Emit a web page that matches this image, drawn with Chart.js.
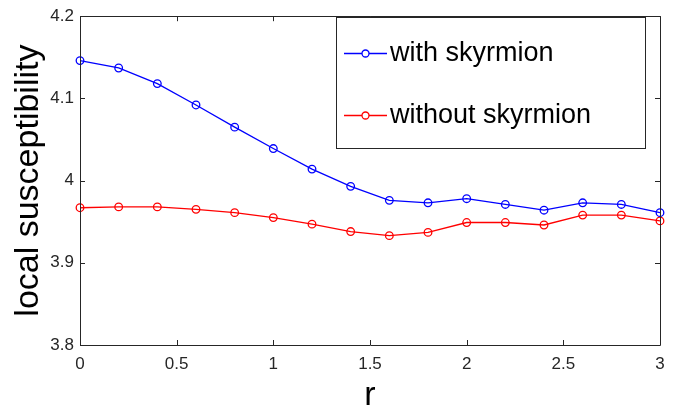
<!DOCTYPE html>
<html>
<head>
<meta charset="utf-8">
<script src="https://cdn.jsdelivr.net/npm/chart.js@4.4.1/dist/chart.umd.min.js"></script>
<style>
  html, body { margin: 0; padding: 0; background: #fff; }
  #wrap { width: 696px; height: 411px; }
</style>
</head>
<body>
<div id="wrap"><canvas id="chi-chart"></canvas></div>
<script>
// values
const rValues = [0, 0.2, 0.4, 0.6, 0.8, 1.0, 1.2, 1.4, 1.6, 1.8, 2.0, 2.2, 2.4, 2.6, 2.8, 3.0]
const withSkyrmion = [4.146, 4.137, 4.118, 4.092, 4.065, 4.039, 4.014, 3.993, 3.976, 3.973, 3.978, 3.971, 3.964, 3.973, 3.971, 3.961]
const withoutSkyrmion = [3.967, 3.968, 3.968, 3.965, 3.961, 3.955, 3.947, 3.938, 3.933, 3.937, 3.949, 3.949, 3.946, 3.958, 3.958, 3.951]
const seriesLabels = ['with skyrmion', 'without skyrmion']
const xTicks = [0, 0.5, 1, 1.5, 2, 2.5, 3]
const yTicks = [3.8, 3.9, 4, 4.1, 4.2]

const toPoints = (ys) => ys.map((y, i) => ({ x: rValues[i], y: y }))

// matlab style box with inward ticks
const boxAxes = {
  id: 'boxAxes',
  afterDraw(chart) {
    const { ctx, chartArea: a, scales } = chart
    ctx.save()
    ctx.strokeStyle = '#262626'
    ctx.lineWidth = 1
    ctx.beginPath()
    ctx.rect(Math.round(a.left) + 0.5, Math.round(a.top) + 0.5, Math.round(a.width), Math.round(a.height))
    const len = 5
    xTicks.forEach(v => {
      const x = Math.round(scales.x.getPixelForValue(v)) + 0.5
      ctx.moveTo(x, a.bottom); ctx.lineTo(x, a.bottom - len)
      ctx.moveTo(x, a.top); ctx.lineTo(x, a.top + len)
    })
    yTicks.forEach(v => {
      const y = Math.round(scales.y.getPixelForValue(v)) + 0.5
      ctx.moveTo(a.left, y); ctx.lineTo(a.left + len, y)
      ctx.moveTo(a.right, y); ctx.lineTo(a.right - len, y)
    })
    ctx.stroke()
    ctx.restore()
  }
}

// legend box drawn inside the plot, upper right
const boxLegend = {
  id: 'boxLegend',
  afterDraw(chart) {
    const { ctx } = chart
    const left = 336, top = 17, w = 309, h = 131
    ctx.save()
    ctx.fillStyle = '#fff'
    ctx.fillRect(left, top, w, h)
    ctx.strokeStyle = '#262626'
    ctx.lineWidth = 1
    ctx.strokeRect(left + 0.5, top + 0.5, w, h)
    const rows = [53, 115]
    chart.data.datasets.forEach((ds, i) => {
      const y = rows[i] + 0.5
      ctx.strokeStyle = ds.borderColor
      ctx.lineWidth = 1.3
      ctx.beginPath()
      ctx.moveTo(344, y); ctx.lineTo(387, y)
      ctx.stroke()
      ctx.beginPath()
      ctx.arc(365.5, y, 3.5, 0, Math.PI * 2)
      ctx.fillStyle = '#fff'
      ctx.fill()
      ctx.stroke()
      ctx.fillStyle = '#000'
      ctx.font = '27px "Liberation Sans", Arial, sans-serif'
      ctx.textBaseline = 'middle'
      ctx.fillText(ds.label, 390, y)
    })
    ctx.restore()
  }
}

const chiConfig = {
  type: 'line',
  data: {
    datasets: [
      {
        label: seriesLabels[0],
        data: toPoints(withSkyrmion),
        borderColor: '#0000ff',
        backgroundColor: 'rgba(0,0,0,0)',
        borderWidth: 1.3,
        pointRadius: 3.8,
        pointBorderWidth: 1.3,
        pointBackgroundColor: 'rgba(0,0,0,0)',
        tension: 0,
        clip: false,
      },
      {
        label: seriesLabels[1],
        data: toPoints(withoutSkyrmion),
        borderColor: '#ff0000',
        backgroundColor: 'rgba(0,0,0,0)',
        borderWidth: 1.3,
        pointRadius: 3.8,
        pointBorderWidth: 1.3,
        pointBackgroundColor: 'rgba(0,0,0,0)',
        tension: 0,
        clip: false,
      },
    ],
  },
  options: {
    responsive: true,
    maintainAspectRatio: false,
    animation: false,
    layout: { padding: { left: 0, top: 13, right: 36, bottom: 0 } },
    plugins: {
      legend: { display: false },
      tooltip: { enabled: false },
    },
    scales: {
      x: {
        type: 'linear',
        min: 0,
        max: 3,
        afterBuildTicks: (s) => { s.ticks = xTicks.map(v => ({ value: v })) },
        afterFit: (s) => { s.height = 66 },
        grid: { display: false, drawTicks: false },
        border: { display: false },
        ticks: {
          padding: 9,
          color: '#262626',
          font: { family: '"Liberation Sans", Arial, sans-serif', size: 17 },
          callback: (v) => String(v),
        },
        title: {
          display: true,
          text: 'r',
          color: '#000',
          font: { family: '"Liberation Sans", Arial, sans-serif', size: 34, lineHeight: 0.8 },
          padding: { top: 0, bottom: 2 },
        },
      },
      y: {
        min: 3.8,
        max: 4.2,
        afterBuildTicks: (s) => { s.ticks = yTicks.map(v => ({ value: v })) },
        afterFit: (s) => { s.width = 80 },
        grid: { display: false, drawTicks: false },
        border: { display: false },
        ticks: {
          padding: 6,
          color: '#262626',
          font: { family: '"Liberation Sans", Arial, sans-serif', size: 17 },
          callback: (v) => String(v),
        },
        title: {
          display: true,
          text: 'local susceptibility',
          color: '#000',
          font: { family: '"Liberation Sans", Arial, sans-serif', size: 34, lineHeight: 1 },
          padding: { top: 12, bottom: 0 },
        },
      },
    },
  },
  plugins: [boxAxes, boxLegend],
}

const chiChart = document.getElementById('chi-chart')
window.myLine = new Chart(chiChart, chiConfig)
</script>
</body>
</html>
